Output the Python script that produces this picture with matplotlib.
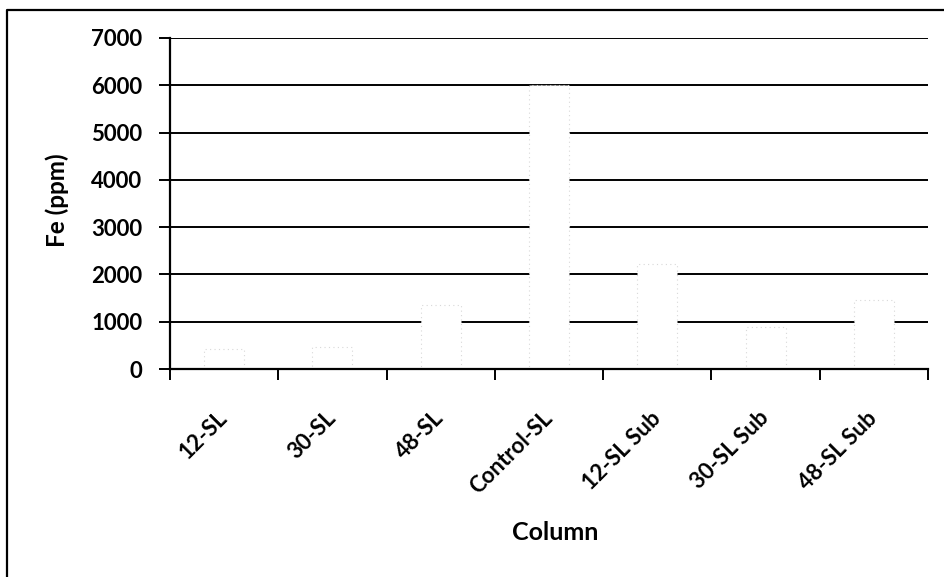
import matplotlib
matplotlib.use("Agg")
import matplotlib.pyplot as plt
from matplotlib.lines import Line2D

categories = ["12-SL", "30-SL", "48-SL", "Control-SL", "12-SL Sub", "30-SL Sub", "48-SL Sub"]
fe_ppm = [420, 460, 1350, 6000, 2230, 890, 1450]
y_ticks = [0, 1000, 2000, 3000, 4000, 5000, 6000, 7000]

plt.rcParams["font.family"] = ["Lato", "DejaVu Sans"]
plt.rcParams["font.weight"] = "bold"

W, H = 945, 577
fig = plt.figure(figsize=(W / 100, H / 100), dpi=100)
fig.patch.set_facecolor("white")

# outer chart-area frame (left and top edges)
fig.lines.append(Line2D([7 / W, 7 / W, 1.0], [0, 1 - 10 / H, 1 - 10 / H],
                        transform=fig.transFigure, color="black", linewidth=1.6))

ax = fig.add_axes([170 / W, 1 - 369 / H, (928 - 170) / W, (369 - 38) / H])
ax.set_facecolor("white")

x = list(range(len(categories)))
for yv in y_ticks[1:]:
    ax.axhline(yv, color="black", linewidth=1.4, zorder=1)

ax.bar(x, fe_ppm, width=0.37, color="white", edgecolor="#d8d8d8",
       linewidth=0.8, linestyle=(0, (1, 3)), zorder=2)

ax.set_xlim(-0.5, len(categories) - 0.5)
ax.set_ylim(0, 7000)
ax.set_yticks(y_ticks)
ax.set_yticklabels([str(v) for v in y_ticks], fontsize=16, fontweight="bold")

ax.set_xticks([i - 0.5 for i in range(len(categories) + 1)])
ax.set_xticklabels([])
ax.set_xticks(x, minor=True)
ax.set_xticklabels(categories, minor=True, rotation=45, ha="right", va="center",
                   rotation_mode="anchor", fontsize=16, fontweight="bold")
ax.tick_params(axis="x", which="minor", length=0, pad=33)
ax.tick_params(axis="x", which="major", length=8, width=1.4, direction="out")
ax.tick_params(axis="y", length=8, width=1.4, direction="out", pad=12)

for s in ["top", "right"]:
    ax.spines[s].set_visible(False)
for s in ["left", "bottom"]:
    ax.spines[s].set_linewidth(1.6)
    ax.spines[s].set_zorder(3)

fig.text(57 / W, 1 - 200 / H, "Fe (ppm)", fontsize=17.5, fontweight="bold",
         rotation=90, ha="center", va="center")
fig.text(555 / W, 1 - 533 / H, "Column", fontsize=18, fontweight="bold",
         ha="center", va="center")

fig.savefig("out.png", dpi=100)
